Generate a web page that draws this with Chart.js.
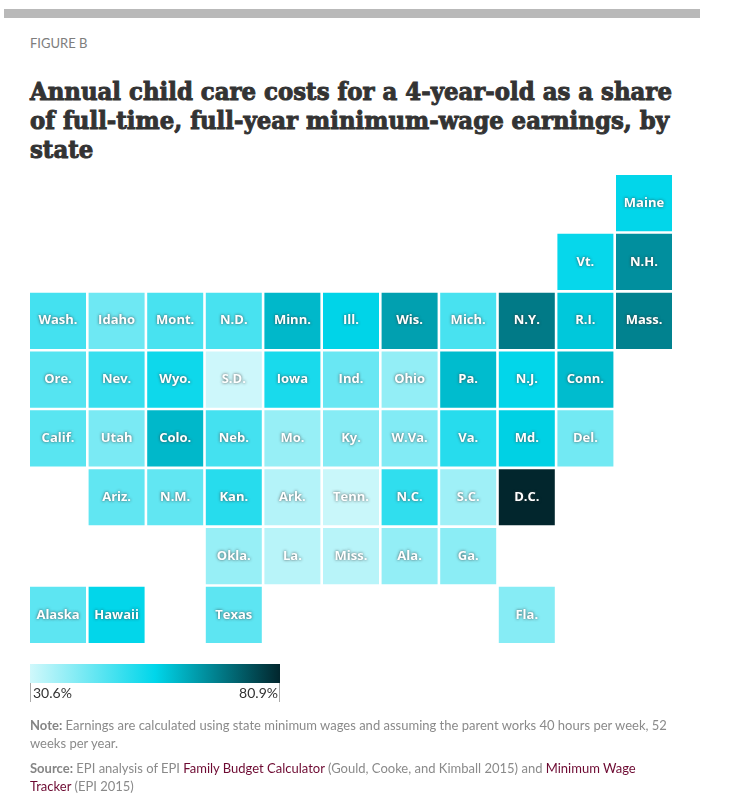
<!DOCTYPE html>
<html>
<head>
<meta charset="utf-8">
<script src="https://cdn.jsdelivr.net/npm/chart.js@4/dist/chart.umd.min.js"></script>
<style>
  html, body { margin: 0; background: #fff; }
  body { position: relative; width: 729px; height: 793px; overflow: hidden; font-family: Lato, sans-serif; }
  #map { position: absolute; left: 0; top: 0; }
  .abs { position: absolute; white-space: nowrap; }
  #topbar { left: 4px; top: 9px; width: 696px; height: 9px; background: #b9b9b9; }
  #figure { left: 30px; top: 35px; font-size: 13px; color: #7d7d7d; }
  #title { left: 30px; top: 77px; font: bold 25px/29px "DejaVu Serif", serif; color: #333; transform-origin: 0 0; transform: scaleX(0.914); -webkit-text-stroke: 1px #333; }
  #ramp { left: 30px; top: 664px; width: 250px; height: 19px; }
  .tick { top: 683px; width: 1px; height: 19px; background: #aaa; }
  .tickLabel { top: 684px; font-size: 14px; color: #333; }
  .foot { left: 30px; font-size: 13px; line-height: 18px; color: #8a8a8a; }
  .foot b { color: #858585; }
  .foot a { color: #6d0a32; text-decoration: none; }
</style>
</head>
<body>
<div class="abs" id="topbar"></div>
<div class="abs" id="figure">FIGURE B</div>
<div class="abs" id="title">Annual child care costs for a 4-year-old as a share<br>of full-time, full-year minimum-wage earnings, by<br>state</div>
<canvas id="map" width="729" height="793"></canvas>
<div class="abs" id="ramp"></div>
<div class="abs tick" style="left:30px"></div>
<div class="abs tick" style="left:279px"></div>
<div class="abs tickLabel" id="minLabel" style="left:33px"></div>
<div class="abs tickLabel" id="maxLabel" style="right:451px"></div>
<div class="abs foot" style="top:716px"><b>Note:</b> Earnings are calculated using state minimum wages and assuming the parent works 40 hours per week, 52<br>weeks per year.</div>
<div class="abs foot" style="top:759px"><b>Source:</b> EPI analysis of EPI <a>Family Budget Calculator</a> (Gould, Cooke, and Kimball 2015) and <a>Minimum Wage<br>Tracker</a> (EPI 2015)</div>

<script>
const states = ['Maine',
    'Vt.', 'N.H.',
    'Wash.', 'Idaho', 'Mont.', 'N.D.', 'Minn.', 'Ill.', 'Wis.', 'Mich.', 'N.Y.', 'R.I.', 'Mass.',
    'Ore.', 'Nev.', 'Wyo.', 'S.D.', 'Iowa', 'Ind.', 'Ohio', 'Pa.', 'N.J.', 'Conn.',
    'Calif.', 'Utah', 'Colo.', 'Neb.', 'Mo.', 'Ky.', 'W.Va.', 'Va.', 'Md.', 'Del.',
    'Ariz.', 'N.M.', 'Kan.', 'Ark.', 'Tenn.', 'N.C.', 'S.C.', 'D.C.',
    'Okla.', 'La.', 'Miss.', 'Ala.', 'Ga.',
    'Alaska', 'Hawaii', 'Texas', 'Fla.'];
const stateCols = [10,
    9, 10,
    0, 1, 2, 3, 4, 5, 6, 7, 8, 9, 10,
    0, 1, 2, 3, 4, 5, 6, 7, 8, 9,
    0, 1, 2, 3, 4, 5, 6, 7, 8, 9,
    1, 2, 3, 4, 5, 6, 7, 8,
    3, 4, 5, 6, 7,
    0, 1, 3, 8];
const stateRows = [0,
    1, 1,
    2, 2, 2, 2, 2, 2, 2, 2, 2, 2, 2,
    3, 3, 3, 3, 3, 3, 3, 3, 3, 3,
    4, 4, 4, 4, 4, 4, 4, 4, 4, 4,
    5, 5, 5, 5, 5, 5, 5, 5,
    6, 6, 6, 6, 6,
    7, 7, 7, 7];
const shares = [55.5,
    55, 65.9,
    47.5, 42.5, 47, 47, 60, 56, 63.5, 47, 68.9, 57.8, 67.8,
    45.5, 49, 54, 31, 52.7, 43, 38, 59.5, 55.5, 59.5,
    45, 41, 60, 47.5, 37.5, 39.5, 40, 51, 56.5, 42,
    44, 44, 51, 34, 31.5, 50, 36.5, 80.9,
    37.5, 33.5, 33.5, 38, 39,
    44.5, 55.5, 44.5, 39.5];
const colLabels = [0, 1, 2, 3, 4, 5, 6, 7, 8, 9, 10];
const legendMin = 30.6;
const legendMax = 80.9;
const rampColors = [[208, 248, 251], [0, 214, 234], [2, 38, 45]];

function shareColor(v) {
    let t = (v - legendMin) / (legendMax - legendMin) * 2;
    let i = t < 1 ? 0 : 1;
    let f = t - i;
    let c = rampColors[i].map((a, k) => Math.round(a + (rampColors[i + 1][k] - a) * f));
    return 'rgb(' + c.join(',') + ')';
}

document.getElementById('ramp').style.background = 'linear-gradient(to right, ' +
    rampColors.map(c => 'rgb(' + c.join(',') + ')').join(', ') + ')';
document.getElementById('minLabel').textContent = legendMin + '%';
document.getElementById('maxLabel').textContent = legendMax + '%';

const tileLabels = {
    id: 'tileLabels',
    afterDatasetsDraw(chart) {
        const ctx = chart.ctx;
        ctx.save();
        ctx.font = 'bold 13px "Open Sans", sans-serif';
        ctx.textAlign = 'center';
        ctx.textBaseline = 'middle';
        ctx.fillStyle = '#fff';
        ctx.shadowColor = 'rgba(50,50,50,0.85)';
        ctx.shadowBlur = 3;
        states.forEach((s, i) => {
            ctx.fillText(s, chart.scales.x.getPixelForValue(stateCols[i]),
                chart.scales.y.getPixelForValue(stateRows[i] + 0.5));
        });
        ctx.restore();
    }
};

new Chart(document.getElementById('map').getContext('2d'), {
    type: 'bar',
    plugins: [tileLabels],
    data: {
        labels: colLabels,
        datasets: [{
            data: states.map((s, i) => ({ x: stateCols[i], y: [stateRows[i], stateRows[i] + 1] })),
            backgroundColor: shares.map(shareColor),
            borderColor: '#fff',
            borderWidth: 1.3,
            borderSkipped: false,
            inflateAmount: 0,
            barPercentage: 1,
            categoryPercentage: 1
        }]
    },
    options: {
        responsive: false,
        animation: false,
        layout: { padding: { left: 28.7, right: 55.7, top: 173.7, bottom: 148.7 } },
        scales: {
            x: { display: false },
            y: { display: false, min: 0, max: 8, reverse: true }
        },
        plugins: { legend: { display: false }, tooltip: { enabled: false } }
    }
});
</script>
</body>
</html>
